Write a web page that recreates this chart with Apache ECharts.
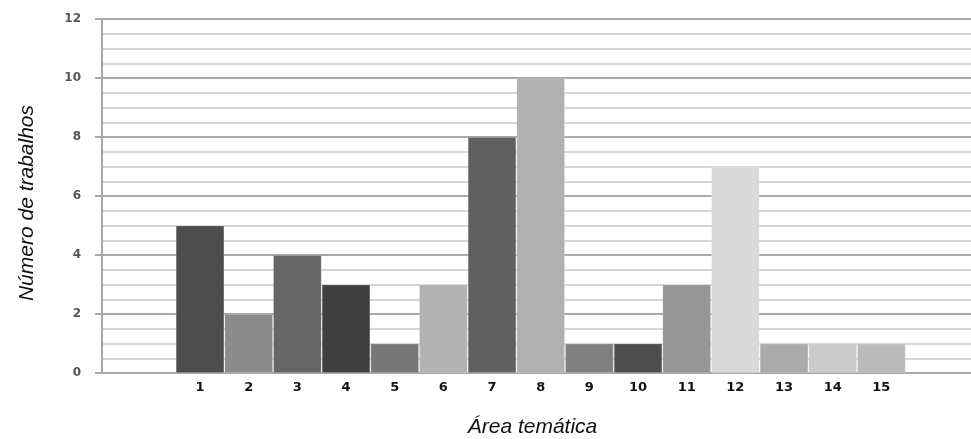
<!DOCTYPE html>
<html>
<head>
<meta charset="utf-8">
<script src="https://cdn.jsdelivr.net/npm/echarts@6/dist/echarts.min.js"></script>
<style>html,body{margin:0;padding:0;background:#fff}#c{width:971px;height:439px}</style>
</head>
<body>
<div id="c"></div>
<script>
const categories = ['1','2','3','4','5','6','7','8','9','10','11','12','13','14','15'];
const values = [5, 2, 4, 3, 1, 3, 8, 10, 1, 1, 3, 7, 1, 1, 1];
const barColors = ['#4d4d4d','#8c8c8c','#666666','#404040','#777777','#b3b3b3','#606060','#b1b1b1','#808080','#4e4e4e','#969696','#d9d9d9','#ababab','#cbcbcb','#bbbbbb'];
const yTitle = 'Número de trabalhos';
const xTitle = 'Área temática';

const chart = echarts.init(document.getElementById('c'), null, {renderer: 'canvas'});
chart.setOption({
  backgroundColor: '#ffffff',
  animation: false,
  grid: [
    {left: 102, right: 0, top: 19, bottom: 66, containLabel: false, outerBoundsMode: 'none'},
    {left: 175.7, right: 65.3, top: 19, bottom: 66, containLabel: false, outerBoundsMode: 'none'}
  ],
  xAxis: [
    {
      gridIndex: 0, type: 'value', min: 0, max: 1,
      axisLine: {show: false}, axisTick: {show: false}, axisLabel: {show: false}, splitLine: {show: false},
      name: xTitle, nameLocation: 'middle', nameGap: 44,
      nameTextStyle: {fontFamily: 'Liberation Sans', fontStyle: 'italic', fontSize: 21, color: '#111', padding: [0, 8, 0, 0]}
    },
    {
      gridIndex: 1, type: 'category', data: categories,
      axisLine: {show: false}, axisTick: {show: false},
      axisLabel: {margin: 8, fontFamily: 'DejaVu Sans', fontWeight: 'bold', fontSize: 13, color: '#111'}
    }
  ],
  yAxis: [
    {
      gridIndex: 0, type: 'value', min: 0, max: 12, interval: 2,
      axisLine: {show: true, lineStyle: {color: '#a8a8a8', width: 2}},
      axisTick: {show: true, length: 7, lineStyle: {color: '#a8a8a8', width: 2}},
      axisLabel: {margin: 21, fontFamily: 'DejaVu Sans', fontWeight: 'bold', fontSize: 12, color: '#555'},
      splitLine: {show: true, lineStyle: {color: '#a8a8a8', width: 2}},
      minorTick: {show: false, splitNumber: 4},
      minorSplitLine: {show: true, lineStyle: {color: '#d6d6d6', width: 2}},
      name: yTitle, nameLocation: 'middle', nameGap: 64, nameRotate: 90,
      nameTextStyle: {fontFamily: 'Liberation Sans', fontStyle: 'italic', fontSize: 21, color: '#111', padding: [0, 14, 0, 0]}
    },
    {
      gridIndex: 1, type: 'value', min: 0, max: 12, show: false, splitLine: {show: false}
    }
  ],
  series: [{
    type: 'bar', xAxisIndex: 1, yAxisIndex: 1,
    barCategoryGap: '0%',
    data: values.map((v, i) => ({value: v, itemStyle: {color: barColors[i]}})),
    itemStyle: {borderColor: 'rgba(255,255,255,0.15)', borderWidth: 1}
  }]
});
</script>
</body>
</html>
